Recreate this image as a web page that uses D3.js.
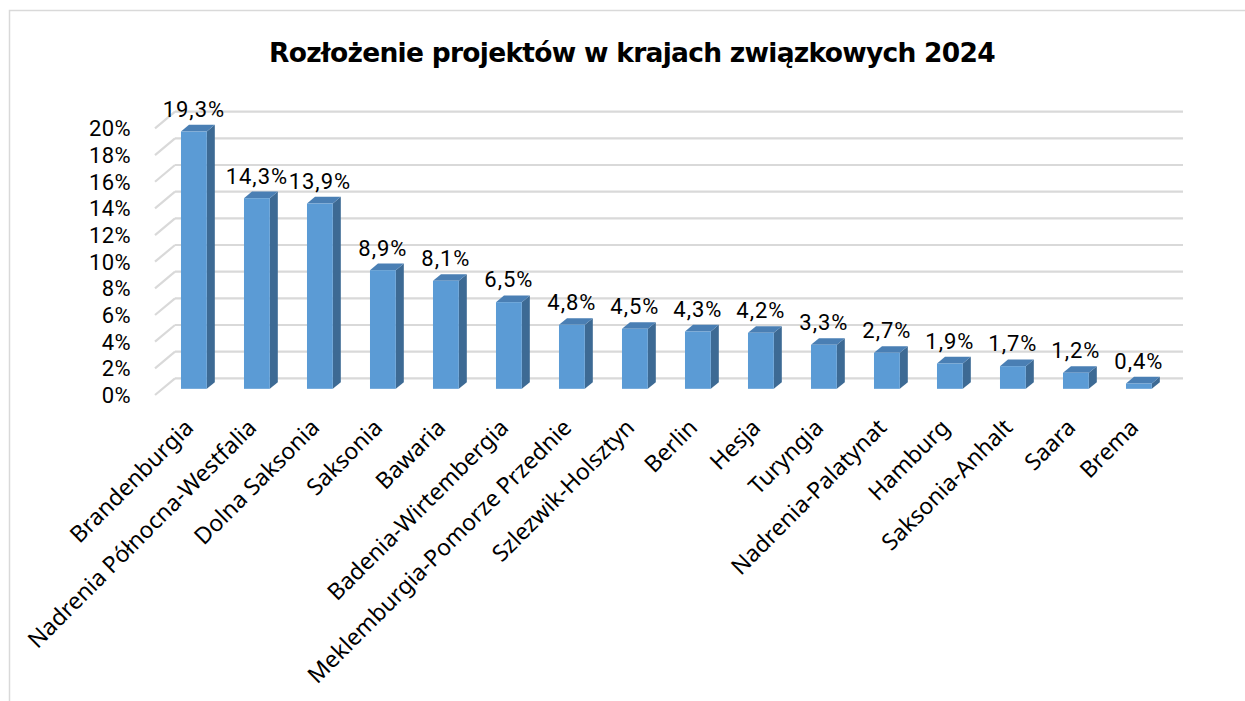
<!DOCTYPE html>
<html>
<head>
<meta charset="utf-8">
<script src="https://cdn.jsdelivr.net/npm/d3@7"></script>
<style>
  html, body { margin: 0; padding: 0; background: #fff; }
  svg { display: block; }
</style>
</head>
<body>
<svg id="chart" width="1245" height="701"></svg>
<script>
const title = "Rozłożenie projektów w krajach związkowych 2024";
const categories = ["Brandenburgia", "Nadrenia Północna-Westfalia", "Dolna Saksonia", "Saksonia", "Bawaria",
  "Badenia-Wirtembergia", "Meklemburgia-Pomorze Przednie", "Szlezwik-Holsztyn", "Berlin", "Hesja",
  "Turyngia", "Nadrenia-Palatynat", "Hamburg", "Saksonia-Anhalt", "Saara", "Brema"];
const values = [19.3, 14.3, 13.9, 8.9, 8.1, 6.5, 4.8, 4.5, 4.3, 4.2, 3.3, 2.7, 1.9, 1.7, 1.2, 0.4];
const tickValues = [0, 2, 4, 6, 8, 10, 12, 14, 16, 18, 20];

const svg = d3.select("#chart");

// frame
svg.append("path")
  .attr("d", "M9.5,701 L9.5,10.5 L1245,10.5")
  .attr("fill", "none").attr("stroke", "#d9d9d9").attr("stroke-width", 1.5);

// 3D geometry
const DX = 20, DY = -16.7;           // full depth offset (front -> back wall)
const y = d3.scaleLinear().domain([0, 20]).range([395, 128.4]);   // front plane
const x = d3.scaleBand().domain(categories).range([155, 1163]).paddingInner(0.59).paddingOuter(0.295);

// gridlines on back wall + diagonal ticks on left
const g = svg.append("g");
tickValues.forEach(t => {
  const yf = y(t), yb = yf + DY;
  g.append("line").attr("x1", 155).attr("y1", yf).attr("x2", 155 + DX).attr("y2", yb)
    .attr("stroke", "#d9d9d9").attr("stroke-width", 2.2);
  g.append("line").attr("x1", 155 + DX).attr("y1", yb).attr("x2", 1163 + DX).attr("y2", yb)
    .attr("stroke", "#d9d9d9").attr("stroke-width", 2.2);
});

// y tick labels
svg.append("g").selectAll("text").data(tickValues).join("text")
  .attr("x", 131).attr("y", d => y(d)).attr("dy", "0.36em")
  .attr("text-anchor", "end")
  .attr("font-family", "Roboto, sans-serif").attr("font-size", 22).attr("letter-spacing", 0.4).attr("fill", "#000")
  .text(d => d + "%");

// bars
const f1 = 0.37, fd = 0.4;
const bx = d => x(d.c) + f1 * DX;
const by = v => y(v) + f1 * DY;
const y0 = by(0);
const bw = x.bandwidth();
const ox = fd * DX, oy = fd * DY;
const data = categories.map((c, i) => ({ c, v: values[i] }));

const bars = svg.append("g").selectAll("g").data(data).join("g");
// side face
bars.append("path").attr("fill", "#3d6a94")
  .attr("d", d => {
    const x1 = bx(d) + bw, yt = by(d.v);
    return `M${x1},${yt} L${x1 + ox},${yt + oy} L${x1 + ox},${y0 + oy} L${x1},${y0} Z`;
  });
// top face
bars.append("path").attr("fill", "#4a7fb4")
  .attr("d", d => {
    const x0 = bx(d), yt = by(d.v);
    return `M${x0},${yt} L${x0 + ox},${yt + oy} L${x0 + bw + ox},${yt + oy} L${x0 + bw},${yt} Z`;
  });
// front face
bars.append("rect").attr("fill", "#5b9bd5")
  .attr("x", d => bx(d)).attr("y", d => by(d.v))
  .attr("width", bw).attr("height", d => y0 - by(d.v));

// value labels
const fmt = d3.format(".1f");
svg.append("g").selectAll("text").data(data).join("text")
  .attr("x", d => bx(d) + bw / 2).attr("y", d => by(d.v) + oy - 8)
  .attr("text-anchor", "middle")
  .attr("font-family", "Roboto, sans-serif").attr("font-size", 22).attr("letter-spacing", 1)
  .attr("fill", "#000")
  .text(d => fmt(d.v).replace(".", ",") + "%");

// category labels
svg.append("g").selectAll("text").data(data).join("text")
  .attr("transform", d => `translate(${bx(d) + bw / 2 + 1},${429}) rotate(-45)`)
  .attr("text-anchor", "end")
  .attr("font-family", "'Noto Sans', sans-serif").attr("font-size", 23).attr("fill", "#000")
  .text(d => d.c);

// title
const t = svg.append("text")
  .attr("x", 632).attr("y", 62).attr("text-anchor", "middle")
  .attr("font-family", "'DejaVu Sans', sans-serif").attr("font-weight", "bold").attr("font-size", 26.5)
  .attr("fill", "#000")
  .text(title);
const tw = t.node().getComputedTextLength();
t.attr("letter-spacing", (726 - tw) / title.length);
</script>
</body>
</html>
